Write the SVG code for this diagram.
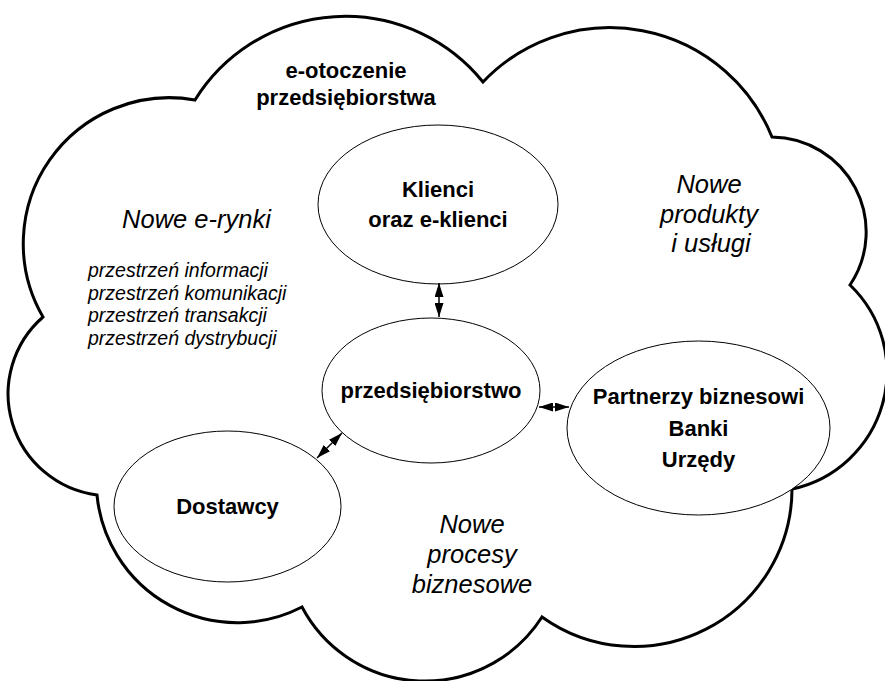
<svg xmlns="http://www.w3.org/2000/svg" width="885" height="681" viewBox="0 0 885 681">
  <defs>
    <style>
      .cloud { fill: #ffffff; stroke: #000000; stroke-width: 3; stroke-linejoin: miter; }
      .node { fill: #ffffff; stroke: #000000; stroke-width: 1; }
      .lbl { font-family: "Liberation Sans", Arial, sans-serif; font-weight: bold; font-size: 22px; fill: #000000; text-anchor: middle; }
      .it { font-family: "Liberation Sans", Arial, sans-serif; font-style: italic; font-size: 25.5px; fill: #000000; text-anchor: middle; }
      .sm { font-family: "Liberation Sans", Arial, sans-serif; font-style: italic; font-size: 19.5px; fill: #000000; }
      .conn { stroke: #000000; stroke-width: 1.5; fill: none; marker-start: url(#ah); marker-end: url(#ah); }
    </style>
    <marker id="ah" markerUnits="userSpaceOnUse" markerWidth="14" markerHeight="9" refX="14" refY="4.5" orient="auto-start-reverse" viewBox="0 0 14 9">
      <path d="M0,0 L14,4.5 L0,9 Z" fill="#000000"/>
    </marker>
  </defs>

  <g id="cloud">
    <path class="cloud" d="M195,100 A177,177 0 0 1 483,82 A175,175 0 0 1 772,137 A95,95 0 0 1 850,285 A120,120 0 0 1 792,489 A158,158 0 0 1 542,617 A139,139 0 0 1 302,607 A141,141 0 0 1 97,495 A102,102 0 0 1 43,317 A146,146 0 0 1 195,100 Z"/>
    <text class="lbl" x="346" y="78">e-otoczenie</text>
    <text class="lbl" x="346" y="105">przedsiębiorstwa</text>
    <text class="it" x="196.5" y="228">Nowe e-rynki</text>
    <text class="sm" x="88" y="277">przestrzeń informacji</text>
    <text class="sm" x="88" y="299.5">przestrzeń komunikacji</text>
    <text class="sm" x="88" y="322">przestrzeń transakcji</text>
    <text class="sm" x="88" y="344.5">przestrzeń dystrybucji</text>
    <text class="it" x="709" y="193">Nowe</text>
    <text class="it" x="709" y="223">produkty</text>
    <text class="it" x="711" y="252">i usługi</text>
    <text class="it" x="472" y="533">Nowe</text>
    <text class="it" x="472" y="563">procesy</text>
    <text class="it" x="472" y="593">biznesowe</text>
  </g>

  <g id="node-klienci">
    <ellipse class="node" cx="438" cy="204.5" rx="120" ry="79.5"/>
    <text class="lbl" x="438" y="197">Klienci</text>
    <text class="lbl" x="438" y="227">oraz e-klienci</text>
  </g>

  <g id="node-przedsiebiorstwo">
    <ellipse class="node" cx="431" cy="390.5" rx="109" ry="72.5"/>
    <text class="lbl" x="431" y="398">przedsiębiorstwo</text>
  </g>

  <g id="node-partnerzy">
    <ellipse class="node" cx="698.5" cy="428" rx="131.5" ry="87"/>
    <text class="lbl" x="698.5" y="404">Partnerzy biznesowi</text>
    <text class="lbl" x="698.5" y="436">Banki</text>
    <text class="lbl" x="698.5" y="467">Urzędy</text>
  </g>

  <g id="node-dostawcy">
    <ellipse class="node" cx="227.5" cy="506.5" rx="113.5" ry="75.5"/>
    <text class="lbl" x="227.5" y="514">Dostawcy</text>
  </g>

  <g id="connectors">
    <line class="conn" x1="439" y1="283" x2="439" y2="317"/>
    <line class="conn" x1="539" y1="407" x2="569" y2="407"/>
    <line class="conn" x1="342" y1="433" x2="317" y2="458"/>
  </g>
</svg>
